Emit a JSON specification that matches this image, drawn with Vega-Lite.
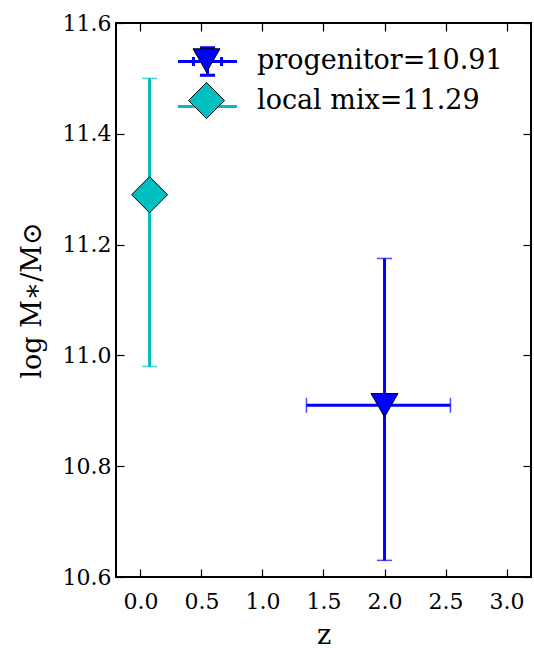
{
  "$schema": "https://vega.github.io/schema/vega-lite/v6.json",
  "width": 415,
  "height": 554,
  "autosize": {"type": "none"},
  "padding": {"left": 116, "top": 23, "right": 3, "bottom": 71},
  "background": "white",
  "config": {
    "view": {"stroke": "black", "strokeWidth": 2, "fill": "white"},
    "axis": {
      "domain": false,
      "grid": false,
      "tickColor": "black",
      "tickWidth": 1.2,
      "tickSize": -8,
      "labelFont": "DejaVu Serif",
      "labelFontSize": 22,
      "labelColor": "black",
      "titleFont": "DejaVu Serif",
      "titleFontWeight": "normal",
      "titleFontSize": 27,
      "titleColor": "black"
    },
    "legend": {
      "labelFont": "DejaVu Serif",
      "labelFontSize": 27,
      "labelColor": "black",
      "labelLimit": 400,
      "padding": 0,
      "symbolOffset": 0
    }
  },
  "data": {
    "values": [
      {"label": "progenitor=10.91", "key": "p", "z": 2.0, "zlo": 1.36, "zhi": 2.54, "m": 10.91, "mlo": 10.63, "mhi": 11.175},
      {"label": "local mix=11.29", "key": "l", "z": 0.075, "zlo": null, "zhi": null, "m": 11.29, "mlo": 10.98, "mhi": 11.5}
    ]
  },
  "layer": [
    {
      "mark": {"type": "rule", "strokeWidth": 3},
      "encoding": {
        "x": {
          "field": "z", "type": "quantitative",
          "scale": {"domain": [-0.2, 3.2], "nice": false, "zero": false},
          "axis": {"orient": "bottom", "values": [0, 0.5, 1, 1.5, 2, 2.5, 3], "format": ".1f", "title": "z", "labelPadding": 22, "titlePadding": 10}
        },
        "y": {
          "field": "mlo", "type": "quantitative",
          "scale": {"domain": [10.6, 11.6], "nice": false, "zero": false},
          "axis": {"orient": "left", "values": [10.6, 10.8, 11.0, 11.2, 11.4, 11.6], "format": ".1f", "title": "log M∗/M⊙", "labelPadding": 13, "titlePadding": 16}
        },
        "y2": {"field": "mhi"},
        "color": {
          "field": "key", "type": "nominal",
          "scale": {"domain": ["p", "l"], "range": ["#0000ff", "#00bfbf"]},
          "legend": {
            "orient": "none", "legendX": 72, "legendY": 19, "title": null,
            "symbolType": "M-1.64,0L1.64,0", "symbolSize": 1296, "symbolStrokeWidth": 3,
            "labelExpr": "''", "labelOffset": 32, "rowPadding": 5,
            "encode": {"symbols": {"update": {"shape": {"signal": "datum.value === 'p' ? 'M-1.64,0L1.64,0M-0.78,-0.25L-0.78,0.25M0.78,-0.25L0.78,0.25M0,-0.76L0,0.76M-0.42,-0.76L0.42,-0.76M-0.42,0.76L0.42,0.76' : 'M-1.64,0L1.64,0'"}}}}
          }
        }
      }
    },
    {
      "transform": [{"filter": "isValid(datum.zlo)"}],
      "mark": {"type": "rule", "strokeWidth": 3},
      "encoding": {
        "x": {"field": "zlo", "type": "quantitative", "axis": null},
        "x2": {"field": "zhi"},
        "y": {"field": "m", "type": "quantitative", "axis": null},
        "color": {"field": "key", "type": "nominal", "legend": null}
      }
    },
    {
      "transform": [{"fold": ["mlo", "mhi"], "as": ["k", "v"]}],
      "mark": {"type": "tick", "orient": "horizontal", "size": 15, "thickness": 1.5},
      "encoding": {
        "x": {"field": "z", "type": "quantitative", "axis": null},
        "y": {"field": "v", "type": "quantitative", "axis": null},
        "color": {"field": "key", "type": "nominal", "legend": null}
      }
    },
    {
      "transform": [{"filter": "isValid(datum.zlo)"}, {"fold": ["zlo", "zhi"], "as": ["k", "v"]}],
      "mark": {"type": "tick", "orient": "vertical", "size": 15, "thickness": 1.5},
      "encoding": {
        "x": {"field": "v", "type": "quantitative", "axis": null},
        "y": {"field": "m", "type": "quantitative", "axis": null},
        "color": {"field": "key", "type": "nominal", "legend": null}
      }
    },
    {
      "mark": {"type": "point", "filled": true, "stroke": "black", "strokeWidth": 1, "opacity": 1},
      "encoding": {
        "x": {"field": "z", "type": "quantitative", "axis": {"orient": "top", "labels": false, "title": null, "values": [0, 0.5, 1, 1.5, 2, 2.5, 3]}},
        "y": {"field": "m", "type": "quantitative", "axis": {"orient": "right", "labels": false, "title": null, "values": [10.6, 10.8, 11.0, 11.2, 11.4, 11.6]}},
        "fill": {
          "field": "label", "type": "nominal",
          "scale": {"domain": ["progenitor=10.91", "local mix=11.29"], "range": ["#0000ff", "#00bfbf"]},
          "legend": {
            "orient": "none", "legendX": 72, "legendY": 19, "title": null,
            "symbolSize": 1296, "symbolStrokeColor": "black", "symbolStrokeWidth": 1, "symbolOpacity": 1,
            "labelOffset": 32, "rowPadding": 5,
            "encode": {"symbols": {"update": {
              "size": {"signal": "datum.value === 'progenitor=10.91' ? 730 : 1296"},
              "stroke": {"value": "black"},
              "opacity": {"value": 1}
            }}}
          }
        },
        "shape": {
          "field": "label", "type": "nominal",
          "scale": {"domain": ["progenitor=10.91", "local mix=11.29"], "range": ["triangle-down", "diamond"]}
        },
        "size": {"condition": {"test": "datum.key === 'p'", "value": 730}, "value": 1296}
      }
    }
  ],
  "resolve": {"axis": {"x": "independent", "y": "independent"}}
}
